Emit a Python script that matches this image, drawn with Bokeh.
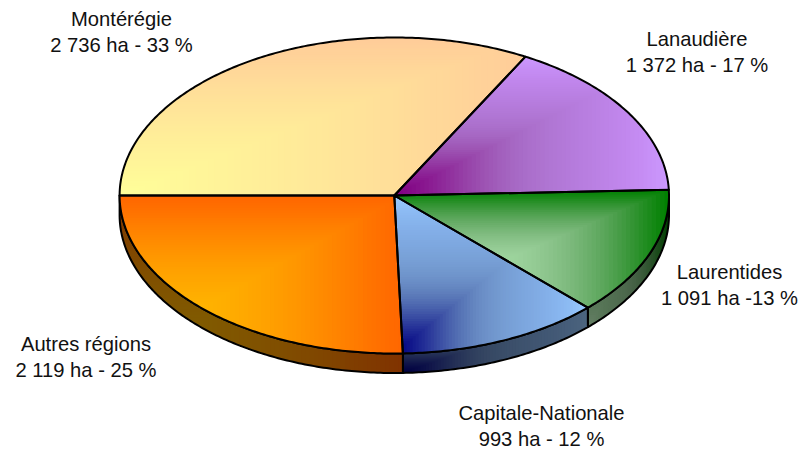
import math
from bokeh.plotting import figure
from bokeh.embed import file_html
from bokeh.resources import INLINE
from bokeh.core.properties import value

regions = ["Montérégie", "Lanaudière", "Laurentides", "Capitale-Nationale", "Autres régions"]
hectares = [2736, 1372, 1091, 993, 2119]
details = ["2 736 ha - 33 %", "1 372 ha - 17 %", "1 091 ha -13 %", "993 ha - 12 %", "2 119 ha - 25 %"]

focus_colors = [(255, 255, 153), (128, 0, 128), (204, 255, 204), (0, 0, 128), (255, 204, 0)]
edge_colors = [(255, 204, 153), (204, 153, 255), (0, 128, 0), (153, 204, 255), (255, 102, 0)]
label_x = [121, 696.5, 729, 541, 85.5]
label_y = [18.5, 38.5, 271.5, 412.5, 343.5]

CX, CY, RX, RY, DEPTH = 393.8, 195.0, 274.7, 158.0, 19.5
BANDS = 64
START = 180.0
GAMMA = 2.2


def rim(a, dy=0.0):
    r = math.radians(a)
    return CX + RX * math.cos(r), CY - RY * math.sin(r) + dy


def arc(a1, a2, dy=0.0):
    n = max(2, int(abs(a2 - a1) * 1.5))
    return [rim(a1 + (a2 - a1) * i / n, dy) for i in range(n + 1)]


def clip(poly, axis, limit, keep_less):
    out = []
    inside = lambda q: (q[axis] <= limit) if keep_less else (q[axis] >= limit)
    for i, cur in enumerate(poly):
        prev = poly[i - 1]
        if inside(cur) != inside(prev):
            f = (limit - prev[axis]) / (cur[axis] - prev[axis])
            out.append((prev[0] + (cur[0] - prev[0]) * f, prev[1] + (cur[1] - prev[1]) * f))
        if inside(cur):
            out.append(cur)
    return out


def mix(c0, c1, t, k):
    w = 4 * t * (1 - t)
    if t < 0.5:
        w = w ** 2
    vals = []
    for a, b in zip(c0, c1):
        lin = a + (b - a) * t
        gam = ((a ** GAMMA) * (1 - t) + (b ** GAMMA) * t) ** (1 / GAMMA)
        vals.append(int(round((lin + (gam - lin) * w) * k)))
    return "#%02x%02x%02x" % tuple(vals)


def bands(poly, c0, c1, k):
    """Corner gradient: nested rectangles painted from the outside towards the corner."""
    xs = [q[0] for q in poly]
    ys = [q[1] for q in poly]
    x0, x1, y0, y1 = min(xs), max(xs), min(ys), max(ys)
    res_x, res_y, res_c = [], [], []
    for i in range(BANDS, 0, -1):
        t = i / BANDS
        pts = clip(poly, 0, x0 + (x1 - x0) * t, True)
        pts = clip(pts, 1, y1 - (y1 - y0) * t, False) if pts else pts
        if len(pts) < 3:
            continue
        res_x.append([q[0] for q in pts])
        res_y.append([q[1] for q in pts])
        res_c.append(mix(c0, c1, (i - 0.5) / BANDS, k))
    return res_x, res_y, res_c


p = figure(width=801, height=449, x_range=(0, 801), y_range=(449, 0),
           toolbar_location=None, output_backend="svg", min_border=0,
           outline_line_color=None)
p.axis.visible = False
p.grid.visible = False

total = sum(hectares)
angle = START
sides, tops = [], []
for ha, c0, c1 in zip(hectares, focus_colors, edge_colors):
    a2 = angle - 360.0 * ha / total
    tops.append(([(CX, CY)] + arc(angle, a2), c0, c1))
    if a2 < 0:
        wa = min(angle, 0.0)
        sides.append((arc(wa, a2) + arc(a2, wa, DEPTH), c0, c1))
    angle = a2

for poly, c0, c1 in sides:
    bx, by, bc = bands(poly, c0, c1, 0.5)
    p.patches(bx, by, fill_color=bc, line_color=None)
    p.patches([[q[0] for q in poly]], [[q[1] for q in poly]], fill_color=None,
              line_color="black", line_width=2, line_join="round")
for poly, c0, c1 in tops:
    bx, by, bc = bands(poly, c0, c1, 1.0)
    p.patches(bx, by, fill_color=bc, line_color=None)
for poly, c0, c1 in tops:
    p.patches([[q[0] for q in poly]], [[q[1] for q in poly]], fill_color=None,
              line_color="black", line_width=2, line_join="round")

font = dict(text_font=value("Liberation Sans"), text_font_size="20.2px", text_color="#111111",
            text_align="center", text_baseline="middle")
p.text(label_x, label_y, text=regions, **font)
p.text(label_x, [y + 26 for y in label_y], text=details, **font)

open("out.html", "w").write(file_html(p, INLINE))
